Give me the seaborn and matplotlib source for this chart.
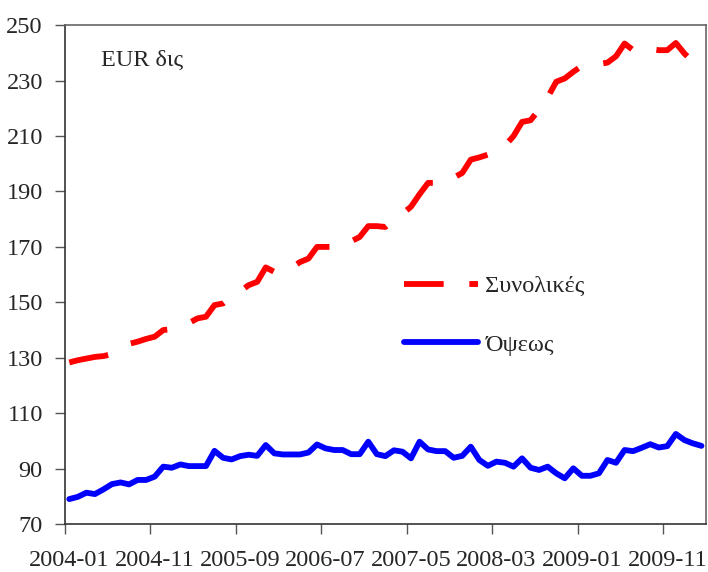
import seaborn as sns
import pandas as pd
import matplotlib.pyplot as plt
from matplotlib.ticker import FixedLocator

sns.set_style("white")
plt.rcParams["font.family"] = ["Liberation Serif", "DejaVu Serif"]

# monthly deposits, EUR bn, 2004-01 .. 2010-03
months = pd.period_range("2004-01", periods=75, freq="M").strftime("%Y-%m").tolist()

total = [
    128.3, 129.1, 129.7, 130.3, 130.6, 131.3, 133.0, 135.0, 135.8, 136.8,
    137.6, 140.0, 140.3, 141.5, 142.5, 144.2, 144.8, 149.0, 149.6, 152.0,
    154.0, 156.2, 157.4, 162.6, 161.0, 160.8, 162.5, 164.5, 165.8, 170.0,
    170.0, 170.0, 170.0, 172.0, 173.6, 177.5, 177.5, 177.2, 179.9, 182.0,
    184.5, 189.0, 193.1, 193.1, 193.1, 195.0, 196.7, 201.5, 202.3, 203.3,
    204.3, 206.5, 210.0, 215.1, 215.7, 219.6, 224.0, 229.6, 230.8, 233.2,
    235.3, 235.8, 236.0, 236.5, 238.8, 243.4, 241.0, 242.2, 241.5, 241.0,
    241.0, 243.6, 239.8, 236.8, 235.5,
]
sight = [
    79.0, 79.8, 81.3, 80.8, 82.5, 84.4, 85.0, 84.3, 85.9, 85.9,
    87.1, 90.7, 90.3, 91.5, 90.9, 90.9, 90.9, 96.4, 93.9, 93.3,
    94.5, 95.0, 94.6, 98.5, 95.5, 95.1, 95.1, 95.1, 95.8, 98.7,
    97.3, 96.7, 96.7, 95.2, 95.2, 99.7, 95.2, 94.5, 96.6, 96.1,
    93.7, 99.7, 96.9, 96.3, 96.3, 93.9, 94.6, 97.9, 93.1, 91.0,
    92.5, 92.1, 90.7, 93.7, 90.3, 89.5, 90.7, 88.3, 86.5, 90.1,
    87.4, 87.4, 88.3, 93.1, 92.1, 96.7, 96.3, 97.5, 98.8, 97.6,
    98.1, 102.5, 100.3, 99.1, 98.2,
]

df = pd.DataFrame({"pos": range(len(months)), "month": months,
                   "Συνολικές": total, "Όψεως": sight})

fs = 17.5
fig = plt.figure(figsize=(7.08, 5.72), dpi=100)
ax = fig.add_axes([0.0918, 0.0839, 0.905, 0.872])

sns.lineplot(data=df, x="pos", y="Συνολικές", ax=ax, color="#ff0000", lw=4.2,
             linestyle=(0, (6.8, 4.4)), dash_capstyle="butt", label="Συνολικές")
sns.lineplot(data=df, x="pos", y="Όψεως", ax=ax, color="#0000ff", lw=4.2,
             label="Όψεως")

ax.set_xlim(-0.5, len(months) - 0.5)
ax.set_ylim(70, 250)
ax.set_yticks(range(70, 251, 20))

# tick marks between categories, labels under every 10th month
ax.xaxis.set_major_locator(FixedLocator([i - 0.5 for i in range(0, 71, 10)]))
ax.xaxis.set_minor_locator(FixedLocator(list(range(0, 71, 10))))
ax.set_xticklabels([""] * 8)
ax.set_xticklabels([months[i] for i in range(0, 71, 10)], minor=True)
ax.tick_params(axis="x", which="major", direction="out", length=7, width=1,
               color="#555555", bottom=True)
ax.tick_params(axis="x", which="minor", length=0, pad=19, labelsize=fs)
ax.tick_params(axis="y", direction="out", length=7, width=1, color="#555555",
               left=True, pad=9, labelsize=fs)

ax.set_xlabel("")
ax.set_ylabel("")
for side in ["left", "bottom", "top", "right"]:
    ax.spines[side].set_color("#333333" if side in ("left", "bottom") else "#666666")
    ax.spines[side].set_linewidth(1.2)

ax.text(0.056, 0.93, "EUR δις", transform=ax.transAxes, fontsize=fs,
        va="center", ha="left")

ax.legend(loc="upper left", bbox_to_anchor=(0.529, 0.499), frameon=False,
          fontsize=fs, handlelength=3.05, handletextpad=0.3,
          labelspacing=1.5, borderpad=0, borderaxespad=0)

fig.savefig("out.png", dpi=100)
